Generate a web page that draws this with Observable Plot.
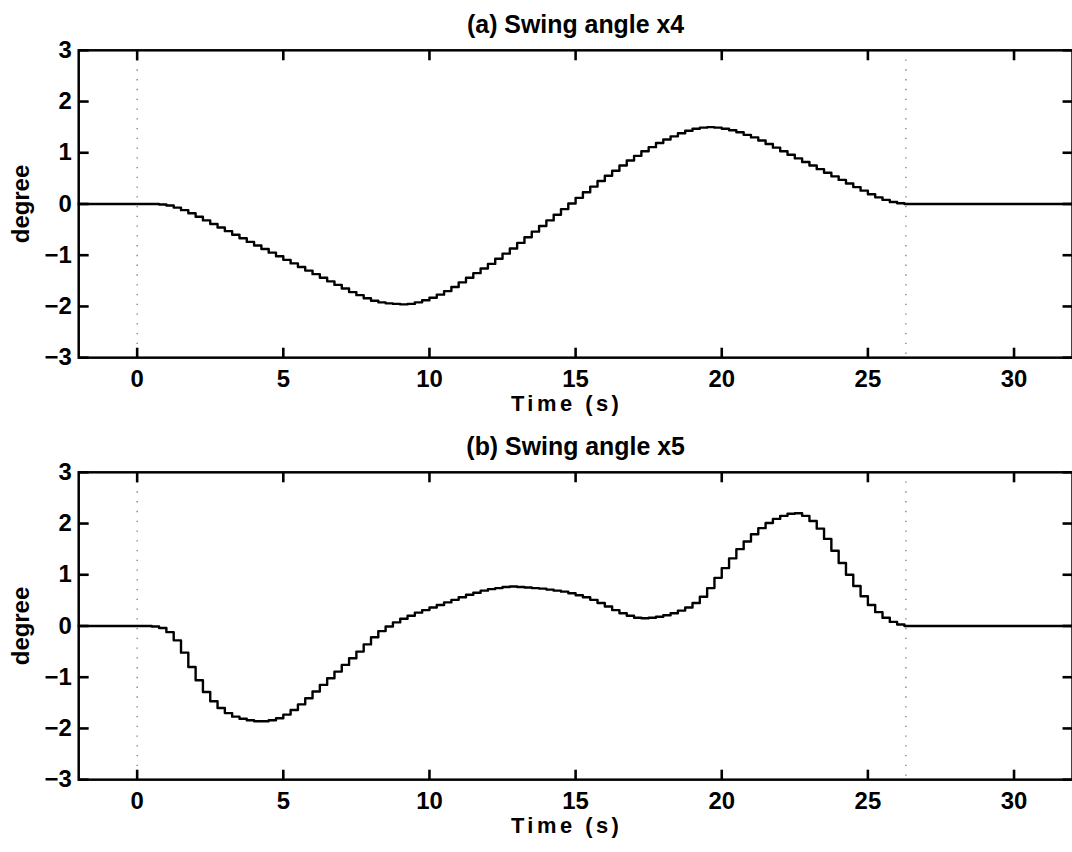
<!DOCTYPE html>
<html><head><meta charset="utf-8">
<script src="https://cdn.jsdelivr.net/npm/d3@7"></script>
<script src="https://cdn.jsdelivr.net/npm/@observablehq/plot@0.6"></script>
<style>
html,body{margin:0;padding:0;background:#fff;overflow:hidden;}
#chart{width:1072px;height:852px;overflow:hidden;background:#fff;}
#chart svg{display:block;}
</style></head><body><div id="chart"></div>
<script>
// Sampled swing angles (degrees), zero-order hold, first sample at t = 0 s, one sample every 0.25 s
const sampleStart = 0;
const sampleStep = 0.25;
const restValue = 0;
const swingX4 = [
  0, 0, 0, -0.01, -0.03, -0.07, -0.12, -0.18, -0.25, -0.32, -0.39, -0.46, -0.53, -0.60, -0.67, -0.74,
  -0.81, -0.88, -0.95, -1.02, -1.09, -1.16, -1.23, -1.30, -1.37, -1.44, -1.51, -1.58, -1.65, -1.72, -1.78, -1.84,
  -1.89, -1.92, -1.94, -1.95, -1.96, -1.95, -1.92, -1.88, -1.83, -1.77, -1.70, -1.62, -1.53, -1.44, -1.35, -1.26,
  -1.17, -1.07, -0.97, -0.87, -0.76, -0.65, -0.54, -0.43, -0.32, -0.21, -0.10, 0.01, 0.12, 0.23, 0.34, 0.45,
  0.55, 0.65, 0.75, 0.85, 0.94, 1.03, 1.11, 1.19, 1.26, 1.32, 1.38, 1.43, 1.47, 1.49, 1.50, 1.49,
  1.47, 1.44, 1.40, 1.35, 1.30, 1.24, 1.17, 1.10, 1.03, 0.96, 0.89, 0.82, 0.75, 0.68, 0.61, 0.54,
  0.47, 0.40, 0.33, 0.26, 0.19, 0.13, 0.08, 0.04, 0.015, 0, 0
];
const swingX5 = [
  0, 0, -0.01, -0.04, -0.12, -0.28, -0.52, -0.80, -1.06, -1.29, -1.47, -1.60, -1.70, -1.77, -1.81, -1.84,
  -1.86, -1.86, -1.84, -1.80, -1.73, -1.64, -1.53, -1.41, -1.28, -1.15, -1.02, -0.89, -0.76, -0.63, -0.50, -0.36,
  -0.22, -0.10, -0.01, 0.07, 0.14, 0.20, 0.26, 0.31, 0.36, 0.41, 0.46, 0.51, 0.56, 0.61, 0.65, 0.69,
  0.72, 0.74, 0.76, 0.77, 0.76, 0.75, 0.74, 0.73, 0.71, 0.69, 0.67, 0.64, 0.60, 0.56, 0.51, 0.45,
  0.38, 0.31, 0.25, 0.20, 0.16, 0.15, 0.16, 0.18, 0.21, 0.25, 0.30, 0.36, 0.45, 0.57, 0.74, 0.94,
  1.13, 1.32, 1.50, 1.65, 1.79, 1.91, 2.01, 2.09, 2.15, 2.19, 2.20, 2.15, 2.05, 1.90, 1.70, 1.47,
  1.23, 1.00, 0.78, 0.58, 0.41, 0.27, 0.16, 0.08, 0.03, 0, 0
];
const panelTitles = ["(a) Swing angle x4", "(b) Swing angle x5"];
const xLabel = "Time (s)";
const yLabel = "degree";
const xDomain = [-2, 32];
const yDomain = [-3, 3];
const xTicks = [0, 5, 10, 15, 20, 25, 30];
const yTicks = [-3, -2, -1, 0, 1, 2, 3];
const markerTimes = [0, 26.3];

function series(values) {
  const rows = [{t: xDomain[0], v: restValue}];
  values.forEach((v, i) => rows.push({t: sampleStart + i * sampleStep, v}));
  rows.push({t: xDomain[1], v: values[values.length - 1]});
  return rows;
}

const font = "'Liberation Sans', Arial, Helvetica, sans-serif";
const W = 1076, H = 424, ML = 78.5, MR = 0, MT = 50, MB = 65.5;
const frameW = W - ML - MR, frameH = H - MT - MB, tickLen = 10;
// tick length expressed in each scale's units so that ticks point inward from the frame
const tickSpanY = tickLen / frameH * (yDomain[1] - yDomain[0]);
const tickSpanX = tickLen / frameW * (xDomain[1] - xDomain[0]);
const tickStyle = {stroke: "#000", strokeWidth: 2.6};

function panel(values, title) {
  const svg = Plot.plot({
    width: W,
    height: H,
    marginLeft: ML,
    marginRight: MR,
    marginTop: MT,
    marginBottom: MB,
    x: {domain: xDomain},
    y: {domain: yDomain},
    style: {fontFamily: font, fontSize: "24px", color: "#000", background: "#fff"},
    marks: [
      Plot.ruleX(markerTimes, {stroke: "#777", strokeWidth: 1.3, strokeDasharray: "1.3,8.5"}),
      Plot.line(series(values), {x: "t", y: "v", curve: "step-after", stroke: "#000", strokeWidth: 2.4}),
      Plot.frame({stroke: "#000", strokeWidth: 2.5}),
      Plot.axisX({anchor: "bottom", ticks: xTicks, tickSize: 0, tickPadding: 12, tickFormat: "d",
        fontWeight: "bold", label: null}),
      Plot.axisY({anchor: "left", ticks: yTicks, tickSize: 0, tickPadding: 7, tickFormat: "d",
        fontWeight: "bold", label: null}),
      Plot.text([xLabel], {frameAnchor: "bottom", lineAnchor: "bottom", dx: -9, dy: 54,
        fontWeight: "bold", fontSize: 22}),
      Plot.text([yLabel], {frameAnchor: "left", textAnchor: "middle", rotate: -90, dx: -57.5,
        fontWeight: "bold", fontSize: 24}),
      Plot.text([title], {frameAnchor: "top", lineAnchor: "bottom", dy: -17, fontWeight: "bold", fontSize: 25}),
      // inward tick marks on all four sides
      Plot.link(xTicks, {x1: d => d, x2: d => d, y1: () => yDomain[1], y2: () => yDomain[1] - tickSpanY, ...tickStyle}),
      Plot.link(xTicks, {x1: d => d, x2: d => d, y1: () => yDomain[0], y2: () => yDomain[0] + tickSpanY, ...tickStyle}),
      Plot.link(yTicks, {y1: d => d, y2: d => d, x1: () => xDomain[0], x2: () => xDomain[0] + tickSpanX, ...tickStyle}),
      Plot.link(yTicks, {y1: d => d, y2: d => d, x1: () => xDomain[1], x2: () => xDomain[1] - tickSpanX, ...tickStyle})
    ]
  });
  d3.select(svg).selectAll("text")
    .filter(function() { return this.textContent === xLabel; })
    .style("letter-spacing", "3.5px");
  return svg;
}

const chart = document.getElementById("chart");
chart.appendChild(panel(swingX4, panelTitles[0]));
chart.appendChild(panel(swingX5, panelTitles[1]));
</script>
</body></html>
